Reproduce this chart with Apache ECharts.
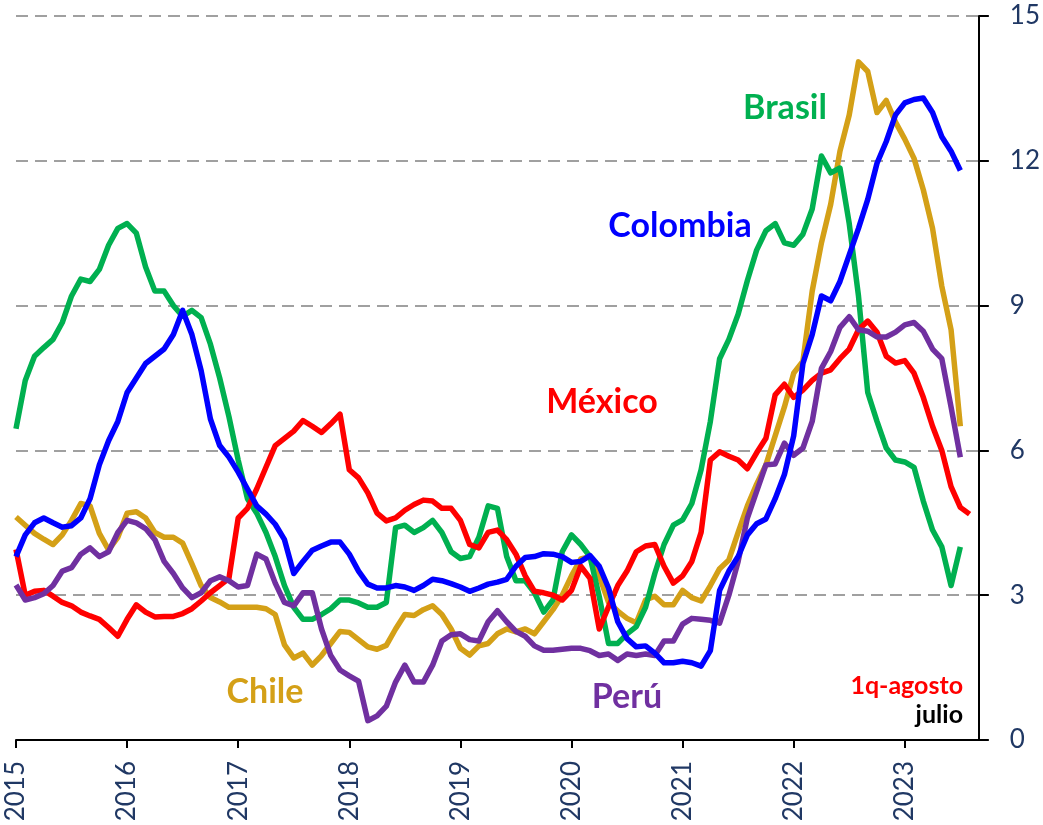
<!DOCTYPE html>
<html>
<head>
<meta charset="utf-8">
<script src="https://cdn.jsdelivr.net/npm/echarts@6/dist/echarts.min.js"></script>
<style>
  html, body { margin: 0; padding: 0; background: #fff; }
  #main { width: 1043px; height: 825px; }
</style>
</head>
<body>
<div id="main"></div>
<script>
var myChart = echarts.init(document.getElementById('main'));

// años del eje (una etiqueta por enero)
var years = ['2015', '2016', '2017', '2018', '2019', '2020', '2021', '2022', '2023'];
// meses de ene-2015 a sep-2023 (el eje termina en septiembre)
var months = [];
years.forEach(function (y) {
    for (var m = 1; m <= 12; m++) {
        if (y === '2023' && m > 9) break;
        months.push(y + '-' + (m < 10 ? '0' + m : m));
    }
});

// inflación anual, %
var brasil = [
    6.45, 7.45, 7.95, 8.13, 8.3, 8.65, 9.2, 9.55, 9.5, 9.75, 10.25, 10.6,
    10.7, 10.5, 9.8, 9.3, 9.3, 9.0, 8.78, 8.9, 8.75, 8.2, 7.5, 6.7,
    5.8, 5.0, 4.7, 4.3, 3.8, 3.2, 2.75, 2.5, 2.5, 2.6, 2.72, 2.9,
    2.9, 2.84, 2.75, 2.75, 2.85, 4.4, 4.45, 4.3, 4.4, 4.55, 4.3, 3.9,
    3.76, 3.8, 4.2, 4.85, 4.8, 3.8, 3.3, 3.3, 3.05, 2.65, 2.9, 3.9,
    4.25, 4.05, 3.8, 2.97, 2.0, 2.0, 2.2, 2.35, 2.75, 3.45, 4.05, 4.45,
    4.56, 4.9, 5.6, 6.6, 7.9, 8.3, 8.82, 9.52, 10.15, 10.55, 10.7, 10.3,
    10.25, 10.48, 11.0, 12.1, 11.75, 11.85, 10.7, 9.2, 7.2, 6.6, 6.05, 5.8,
    5.76, 5.65, 4.95, 4.35, 4.0, 3.2, 4.0
];
var colombia = [
    3.8, 4.25, 4.5, 4.6, 4.5, 4.41, 4.44, 4.6, 5.0, 5.7, 6.2, 6.6,
    7.2, 7.5, 7.8, 7.95, 8.1, 8.4, 8.9, 8.4, 7.65, 6.65, 6.1, 5.86,
    5.55, 5.2, 4.85, 4.68, 4.47, 4.15, 3.45, 3.7, 3.93, 4.02, 4.1, 4.1,
    3.85, 3.5, 3.23, 3.15, 3.15, 3.2, 3.17, 3.1, 3.2, 3.33, 3.3, 3.24,
    3.17, 3.08, 3.15, 3.23, 3.27, 3.33, 3.6, 3.78, 3.8, 3.86, 3.85, 3.8,
    3.68, 3.7, 3.82, 3.6, 3.15, 2.45, 2.1, 1.93, 1.95, 1.8, 1.6, 1.6,
    1.63, 1.6, 1.53, 1.85, 3.1, 3.5, 3.8, 4.25, 4.48, 4.58, 5.0, 5.5,
    6.3, 7.8, 8.4, 9.2, 9.1, 9.5, 10.05, 10.6, 11.2, 11.95, 12.4, 12.95,
    13.2, 13.27, 13.3, 13.0, 12.5, 12.2, 11.8
];
var chile = [
    4.62, 4.45, 4.28, 4.16, 4.05, 4.25, 4.55, 4.9, 4.85, 4.28, 3.94, 4.2,
    4.7, 4.73, 4.6, 4.3, 4.2, 4.2, 4.08, 3.65, 3.2, 2.95, 2.86, 2.75,
    2.75, 2.75, 2.75, 2.72, 2.6, 1.97, 1.7, 1.8, 1.55, 1.75, 2.0, 2.25,
    2.23, 2.08, 1.93, 1.88, 1.96, 2.3, 2.6, 2.58, 2.7, 2.78, 2.6, 2.3,
    1.9, 1.76, 1.95, 2.0, 2.2, 2.3, 2.24, 2.3, 2.2, 2.45, 2.7, 3.0,
    3.4, 3.75, 3.8, 3.4, 2.85, 2.67, 2.52, 2.43, 2.9, 2.98, 2.8, 2.8,
    3.1, 2.95, 2.88, 3.2, 3.55, 3.73, 4.3, 4.85, 5.3, 5.7, 6.3, 6.9,
    7.6, 7.85, 9.3, 10.3, 11.1, 12.2, 12.95, 14.05, 13.85, 13.0, 13.25, 12.8,
    12.45, 12.05, 11.4, 10.6, 9.4, 8.5, 6.5
];
var peru = [
    3.21, 2.9, 2.95, 3.03, 3.2, 3.5, 3.57, 3.85, 3.98, 3.8, 3.9, 4.3,
    4.55, 4.5, 4.38, 4.15, 3.7, 3.45, 3.15, 2.95, 3.05, 3.3, 3.38, 3.3,
    3.17, 3.2, 3.85, 3.75, 3.25, 2.85, 2.78, 3.05, 3.05, 2.3, 1.75, 1.45,
    1.33, 1.22, 0.4, 0.5, 0.7, 1.2, 1.55, 1.2, 1.2, 1.55, 2.05, 2.18,
    2.2, 2.08, 2.05, 2.45, 2.68, 2.45, 2.25, 2.15, 1.95, 1.86, 1.86, 1.88,
    1.9, 1.9, 1.85, 1.75, 1.78, 1.65, 1.78, 1.75, 1.78, 1.75, 2.05, 2.05,
    2.4, 2.52, 2.5, 2.48, 2.42, 3.0, 3.7, 4.6, 5.15, 5.7, 5.72, 6.15,
    5.9, 6.05, 6.6, 7.7, 8.05, 8.55, 8.77, 8.5, 8.47, 8.35, 8.35, 8.45,
    8.6, 8.65, 8.47, 8.1, 7.9, 6.9, 5.86
];
// México: último dato = 1a quincena de agosto
var mexico = [
    3.95, 3.0, 3.08, 3.1, 2.98, 2.85, 2.78, 2.65, 2.57, 2.5, 2.33, 2.15,
    2.5, 2.8, 2.65, 2.55, 2.56, 2.56, 2.62, 2.72, 2.88, 3.05, 3.2, 3.35,
    4.6, 4.8, 5.2, 5.65, 6.1, 6.25, 6.4, 6.62, 6.5, 6.37, 6.55, 6.75,
    5.6, 5.43, 5.12, 4.7, 4.54, 4.6, 4.76, 4.88, 4.97, 4.95, 4.8, 4.8,
    4.55, 4.05, 3.98, 4.3, 4.35, 4.15, 3.85, 3.4, 3.08, 3.05, 3.0, 2.9,
    3.1, 3.6, 3.35, 2.3, 2.76, 3.2, 3.5, 3.9, 4.02, 4.05, 3.6, 3.25,
    3.4, 3.7, 4.3, 5.8, 5.97, 5.88, 5.8, 5.62, 5.95, 6.25, 7.15, 7.37,
    7.1, 7.25, 7.45, 7.6, 7.67, 7.9, 8.1, 8.5, 8.68, 8.45, 7.95, 7.81,
    7.86, 7.6, 7.1, 6.5, 6.0, 5.25, 4.82, 4.68
];

var tickColor = '#203864';
var yearTick = function (index) { return index % 12 === 0; };

function lineSeries(name, data, color) {
    return {
        name: name,
        type: 'line',
        data: data,
        showSymbol: false,
        symbol: 'none',
        smooth: false,
        lineStyle: { color: color, width: 5.5, join: 'round' },
        emphasis: { disabled: true }
    };
}

// etiqueta de texto anclada en (x, y)
function label(text, x, y, color, size, align) {
    return {
        type: 'text',
        x: x,
        y: y,
        style: {
            text: text,
            fill: color,
            font: 'bold ' + size + 'px Lato',
            align: align || 'center',
            verticalAlign: 'middle'
        }
    };
}

option = {
    animation: false,
    backgroundColor: '#fff',
    grid: { left: 16, right: 63, top: 16, bottom: 85, containLabel: false },
    xAxis: {
        type: 'category',
        data: months,
        boundaryGap: false,
        axisLine: { lineStyle: { color: '#000', width: 2 } },
        axisTick: { interval: yearTick, length: 8, lineStyle: { color: '#000', width: 2 } },
        axisLabel: {
            interval: yearTick,
            rotate: 90,
            margin: 21,
            color: tickColor,
            fontFamily: 'Lato',
            fontSize: 26,
            formatter: function (v) { return v.slice(0, 4); }
        },
        splitLine: { show: false }
    },
    yAxis: {
        type: 'value',
        position: 'right',
        min: 0,
        max: 15,
        interval: 3,
        axisLine: { show: true, lineStyle: { color: '#000', width: 2 } },
        axisTick: { show: true, length: 10, lineStyle: { color: '#000', width: 2 } },
        axisLabel: { margin: 31, color: tickColor, fontFamily: 'Lato', fontSize: 26 },
        splitLine: { show: true, lineStyle: { color: '#A0A0A0', width: 2, type: [12, 7] } }
    },
    series: [
        lineSeries('Chile', chile, '#D4A017'),
        lineSeries('Brasil', brasil, '#00B050'),
        lineSeries('México', mexico, '#FF0000'),
        lineSeries('Perú', peru, '#7030A0'),
        lineSeries('Colombia', colombia, '#0000FF')
    ],
    graphic: [
        label('Brasil', 785, 108, '#00B050', 34),
        label('Colombia', 680, 226, '#0000FF', 34),
        label('México', 602, 402, '#FF0000', 34),
        label('Chile', 265, 692, '#D4A017', 34),
        label('Perú', 627, 697, '#7030A0', 34),
        label('1q-agosto', 963, 686, '#FF0000', 25, 'right'),
        label('julio', 963, 715, '#000000', 25, 'right')
    ]
};

myChart.setOption(option);
</script>
</body>
</html>
